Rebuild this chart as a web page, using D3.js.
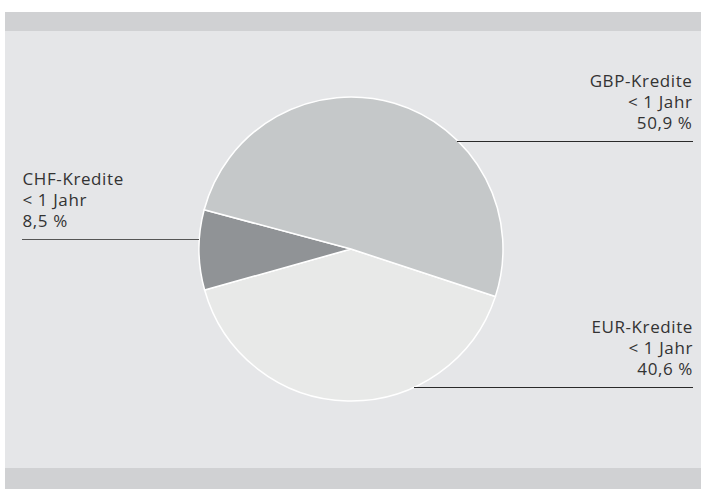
<!DOCTYPE html>
<html>
<head>
<meta charset="utf-8">
<script src="https://cdn.jsdelivr.net/npm/d3@7"></script>
<style>
  body { margin: 0; background: #fff; }
  svg { display: block; }
  .lbl { font-family: "Open Sans", sans-serif; font-size: 17px; letter-spacing: 0.6px; fill: #333; }
</style>
</head>
<body>
<div id="chart"></div>
<script>
// slice order follows the drawing direction (clockwise from EUR)
const categories = ["EUR-Kredite", "CHF-Kredite", "GBP-Kredite"];
const shares = [40.6, 8.5, 50.9];
const subLabels = ["< 1 Jahr", "< 1 Jahr", "< 1 Jahr"];
const valueLabels = ["40,6 %", "8,5 %", "50,9 %"];
const sliceColors = ["#e8e9e8", "#909396", "#c5c8c9"];

const width = 701, height = 489;

let svg = d3.select("#chart").append("svg")
    .attr("width", width)
    .attr("height", height);

// background panel with top/bottom bands
svg.append("rect").attr("x", 5).attr("y", 12).attr("width", width - 5).attr("height", height - 12).attr("fill", "#e5e6e8");
svg.append("rect").attr("x", 5).attr("y", 12).attr("width", width - 5).attr("height", 19).attr("fill", "#d0d1d3");
svg.append("rect").attr("x", 5).attr("y", 468).attr("width", width - 5).attr("height", 21).attr("fill", "#d0d1d3");

let cx = 351, cy = 249, radius = 152;

let pie = d3.pie()
    .sort(null)
    .value(d => d)
    .startAngle(108.2 * Math.PI / 180)
    .endAngle(108.2 * Math.PI / 180 + 2 * Math.PI);

let arc = d3.arc().innerRadius(0).outerRadius(radius);

let g = svg.append("g").attr("transform", "translate(" + cx + "," + cy + ")");

g.selectAll("path")
    .data(pie(shares))
    .enter()
    .append("path")
    .attr("d", arc)
    .attr("fill", (d, i) => sliceColors[i])
    .attr("stroke", "#ffffff")
    .attr("stroke-width", 1.5);

// leader lines + labels (index into arrays above)
let labels = [
    { i: 2, y: 141.5, x1: 457, x2: 693, anchor: "end", tx: 692.5, ty: 87 },
    { i: 1, y: 239.5, x1: 22, x2: 199, anchor: "start", tx: 22.5, ty: 185 },
    { i: 0, y: 387.5, x1: 414, x2: 693, anchor: "end", tx: 693, ty: 332.5 }
];

labels.forEach(function (l) {
    svg.append("line")
        .attr("x1", l.x1).attr("x2", l.x2)
        .attr("y1", l.y).attr("y2", l.y)
        .attr("stroke", l.i === 1 ? "#555" : "#2a2a2a")
        .attr("stroke-width", 1.2);

    let t = svg.append("text")
        .attr("class", "lbl")
        .attr("text-anchor", l.anchor);
    [categories[l.i], subLabels[l.i], valueLabels[l.i]].forEach(function (s, k) {
        t.append("tspan")
            .attr("x", l.tx)
            .attr("y", l.ty + k * 21)
            .text(s);
    });
});
</script>
</body>
</html>
